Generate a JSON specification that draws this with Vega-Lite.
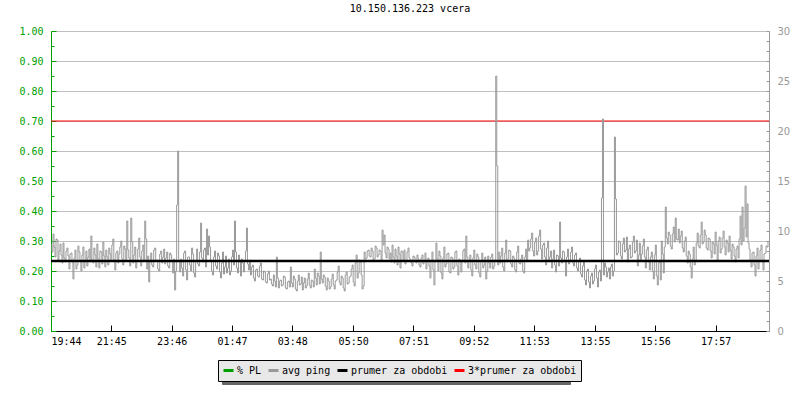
{
"$schema": "https://vega.github.io/schema/vega-lite/v6.json",
"width": 718, "height": 300,
"autosize": {"type": "none"},
"padding": {"left": 51, "top": 31, "right": 31, "bottom": 69},
"background": "white",
"title": {"text": "10.150.136.223 vcera", "font": "DejaVu Sans Mono", "fontSize": 10, "fontWeight": "normal", "color": "black", "offset": 12, "anchor": "middle"},
"config": {"view": {"stroke": null}, "axis": {"labelFont": "DejaVu Sans Mono", "labelFontSize": 10, "title": null}},
"datasets": {
"ping": [
{"t":0,"v":8.6},{"t":2,"v":7.9},{"t":4,"v":9.7},{"t":6,"v":8.4},{"t":8,"v":7.4},{"t":10,"v":9.2},{"t":12,"v":9.1},{"t":14,"v":7.0},{"t":16,"v":8.0},{"t":18,"v":8.7},
{"t":20,"v":7.6},{"t":22,"v":6.8},{"t":24,"v":8.8},{"t":26,"v":7.3},{"t":28,"v":6.9},{"t":30,"v":8.0},{"t":32,"v":8.3},{"t":34,"v":7.5},{"t":36,"v":6.2},{"t":38,"v":7.7},
{"t":40,"v":7.8},{"t":42,"v":6.9},{"t":44,"v":5.2},{"t":46,"v":7.3},{"t":48,"v":8.1},{"t":50,"v":6.2},{"t":52,"v":6.6},{"t":54,"v":8.5},{"t":56,"v":7.9},{"t":58,"v":7.0},
{"t":60,"v":6.0},{"t":62,"v":7.6},{"t":64,"v":8.4},{"t":66,"v":6.3},{"t":68,"v":7.1},{"t":70,"v":8.0},{"t":72,"v":6.5},{"t":74,"v":7.4},{"t":76,"v":8.2},{"t":78,"v":6.9},
{"t":80,"v":9.5},{"t":82,"v":7.1},{"t":84,"v":6.8},{"t":86,"v":8.3},{"t":88,"v":7.6},{"t":90,"v":6.4},{"t":92,"v":8.7},{"t":94,"v":7.2},{"t":96,"v":6.3},{"t":98,"v":8.0},
{"t":100,"v":7.9},{"t":102,"v":6.7},{"t":104,"v":8.9},{"t":106,"v":7.5},{"t":108,"v":6.4},{"t":110,"v":8.1},{"t":112,"v":7.4},{"t":114,"v":6.6},{"t":116,"v":8.3},{"t":118,"v":7.7},
{"t":120,"v":7.0},{"t":122,"v":8.6},{"t":124,"v":9.2},{"t":126,"v":7.1},{"t":128,"v":6.1},{"t":130,"v":7.8},{"t":132,"v":8.0},{"t":134,"v":6.8},{"t":136,"v":7.7},{"t":138,"v":8.4},
{"t":140,"v":9.0},{"t":142,"v":7.2},{"t":144,"v":6.6},{"t":146,"v":8.5},{"t":148,"v":8.2},{"t":150,"v":7.0},{"t":152,"v":11.0},{"t":154,"v":8.1},{"t":156,"v":7.3},{"t":158,"v":6.5},
{"t":160,"v":11.3},{"t":162,"v":8.9},{"t":164,"v":6.8},{"t":166,"v":7.6},{"t":168,"v":8.4},{"t":170,"v":6.3},{"t":172,"v":7.0},{"t":174,"v":8.2},{"t":176,"v":9.3},{"t":178,"v":7.4},
{"t":180,"v":6.5},{"t":182,"v":8.0},{"t":184,"v":8.6},{"t":186,"v":7.1},{"t":188,"v":11.0},{"t":190,"v":9.2},{"t":192,"v":6.2},{"t":194,"v":7.5},{"t":196,"v":4.9},{"t":198,"v":6.9},
{"t":200,"v":7.8},{"t":202,"v":6.6},{"t":204,"v":6.4},{"t":206,"v":8.1},{"t":208,"v":8.3},{"t":210,"v":7.0},{"t":212,"v":7.1},{"t":214,"v":6.2},{"t":216,"v":6.0},{"t":218,"v":7.7},
{"t":220,"v":8.0},{"t":222,"v":6.8},{"t":224,"v":7.4},{"t":226,"v":8.2},{"t":228,"v":6.7},{"t":230,"v":7.3},{"t":232,"v":7.9},{"t":234,"v":6.5},{"t":236,"v":6.3},{"t":238,"v":7.8},
{"t":240,"v":7.6},{"t":242,"v":6.9},{"t":244,"v":5.8},{"t":246,"v":7.2},{"t":248,"v":4.1},{"t":250,"v":6.0},{"t":252,"v":12.6},{"t":254,"v":18.0},{"t":256,"v":7.0},{"t":258,"v":5.9},
{"t":260,"v":7.2},{"t":262,"v":6.3},{"t":264,"v":5.5},{"t":266,"v":7.8},{"t":268,"v":8.0},{"t":270,"v":6.1},{"t":272,"v":5.1},{"t":274,"v":7.4},{"t":276,"v":7.4},{"t":278,"v":6.6},
{"t":280,"v":6.0},{"t":282,"v":8.3},{"t":284,"v":7.7},{"t":286,"v":5.8},{"t":288,"v":5.4},{"t":290,"v":7.0},{"t":292,"v":8.2},{"t":294,"v":6.7},{"t":296,"v":6.5},{"t":298,"v":7.9},
{"t":300,"v":10.8},{"t":302,"v":7.3},{"t":304,"v":6.9},{"t":306,"v":8.1},{"t":308,"v":8.3},{"t":310,"v":6.4},{"t":312,"v":10.2},{"t":314,"v":7.6},{"t":316,"v":9.5},{"t":318,"v":8.4},
{"t":320,"v":7.1},{"t":322,"v":6.0},{"t":324,"v":5.6},{"t":326,"v":7.4},{"t":328,"v":8.0},{"t":330,"v":6.5},{"t":332,"v":6.2},{"t":334,"v":7.8},{"t":336,"v":7.5},{"t":338,"v":5.9},
{"t":340,"v":5.3},{"t":342,"v":6.8},{"t":344,"v":7.9},{"t":346,"v":5.7},{"t":348,"v":6.4},{"t":350,"v":7.5},{"t":352,"v":5.8},{"t":354,"v":6.3},{"t":356,"v":7.2},{"t":358,"v":5.6},
{"t":360,"v":6.0},{"t":362,"v":7.4},{"t":364,"v":8.1},{"t":366,"v":6.6},{"t":368,"v":11.0},{"t":370,"v":7.9},{"t":372,"v":6.3},{"t":374,"v":5.8},{"t":376,"v":7.6},{"t":378,"v":6.9},
{"t":380,"v":5.5},{"t":382,"v":7.2},{"t":384,"v":6.8},{"t":386,"v":5.9},{"t":388,"v":7.0},{"t":390,"v":8.0},{"t":392,"v":10.3},{"t":394,"v":6.7},{"t":396,"v":6.1},{"t":398,"v":7.1},
{"t":400,"v":5.6},{"t":402,"v":6.4},{"t":404,"v":6.6},{"t":406,"v":5.3},{"t":408,"v":5.0},{"t":410,"v":6.1},{"t":412,"v":6.2},{"t":414,"v":5.5},{"t":416,"v":5.4},{"t":418,"v":6.5},
{"t":420,"v":6.8},{"t":422,"v":5.2},{"t":424,"v":5.1},{"t":426,"v":6.0},{"t":428,"v":5.9},{"t":430,"v":4.9},{"t":432,"v":4.8},{"t":434,"v":5.7},{"t":436,"v":6.0},{"t":438,"v":5.1},
{"t":440,"v":5.2},{"t":442,"v":4.7},{"t":444,"v":4.5},{"t":446,"v":5.6},{"t":448,"v":5.0},{"t":450,"v":4.4},{"t":452,"v":7.4},{"t":454,"v":5.3},{"t":456,"v":4.3},{"t":458,"v":5.0},
{"t":460,"v":5.1},{"t":462,"v":4.5},{"t":464,"v":4.6},{"t":466,"v":5.5},{"t":468,"v":5.4},{"t":470,"v":4.3},{"t":472,"v":4.2},{"t":474,"v":4.9},{"t":476,"v":5.0},{"t":478,"v":4.4},
{"t":480,"v":6.4},{"t":482,"v":4.8},{"t":484,"v":4.4},{"t":486,"v":5.5},{"t":488,"v":5.2},{"t":490,"v":4.2},{"t":492,"v":4.0},{"t":494,"v":5.0},{"t":496,"v":5.6},{"t":498,"v":4.6},
{"t":500,"v":4.7},{"t":502,"v":5.4},{"t":504,"v":4.1},{"t":506,"v":4.8},{"t":508,"v":5.3},{"t":510,"v":4.3},{"t":512,"v":4.5},{"t":514,"v":5.2},{"t":516,"v":5.8},{"t":518,"v":4.6},
{"t":520,"v":4.3},{"t":522,"v":5.1},{"t":524,"v":5.0},{"t":526,"v":4.4},{"t":528,"v":6.2},{"t":530,"v":5.3},{"t":532,"v":4.6},{"t":534,"v":5.8},{"t":536,"v":5.5},{"t":538,"v":4.7},
{"t":540,"v":7.9},{"t":542,"v":5.2},{"t":544,"v":4.8},{"t":546,"v":5.6},{"t":548,"v":5.4},{"t":550,"v":4.5},{"t":552,"v":4.1},{"t":554,"v":5.3},{"t":556,"v":5.0},{"t":558,"v":4.2},
{"t":560,"v":4.4},{"t":562,"v":5.2},{"t":564,"v":5.7},{"t":566,"v":4.6},{"t":568,"v":4.2},{"t":570,"v":5.0},{"t":572,"v":5.1},{"t":574,"v":5.9},{"t":576,"v":6.5},{"t":578,"v":4.9},
{"t":580,"v":4.6},{"t":582,"v":5.5},{"t":584,"v":5.3},{"t":586,"v":4.3},{"t":588,"v":4.0},{"t":590,"v":5.6},{"t":592,"v":5.9},{"t":594,"v":4.7},{"t":596,"v":4.8},{"t":598,"v":5.4},
{"t":600,"v":5.5},{"t":602,"v":6.2},{"t":604,"v":6.6},{"t":606,"v":4.9},{"t":608,"v":4.5},{"t":610,"v":6.8},{"t":612,"v":7.6},{"t":614,"v":5.3},{"t":616,"v":5.8},{"t":618,"v":7.1},
{"t":620,"v":6.9},{"t":622,"v":5.6},{"t":624,"v":4.2},{"t":626,"v":4.5},{"t":628,"v":7.9},{"t":630,"v":7.2},{"t":632,"v":7.3},{"t":634,"v":8.0},{"t":636,"v":8.1},{"t":638,"v":7.5},
{"t":640,"v":7.4},{"t":642,"v":8.3},{"t":644,"v":8.0},{"t":646,"v":7.1},{"t":648,"v":7.2},{"t":650,"v":8.5},{"t":652,"v":8.3},{"t":654,"v":7.4},{"t":656,"v":7.6},{"t":658,"v":8.1},
{"t":660,"v":8.0},{"t":662,"v":7.0},{"t":664,"v":10.1},{"t":666,"v":8.6},{"t":668,"v":9.6},{"t":670,"v":7.8},{"t":672,"v":7.3},{"t":674,"v":8.4},{"t":676,"v":8.2},{"t":678,"v":7.2},
{"t":680,"v":7.8},{"t":682,"v":6.9},{"t":684,"v":8.6},{"t":686,"v":7.4},{"t":688,"v":6.8},{"t":690,"v":8.2},{"t":692,"v":7.5},{"t":694,"v":6.6},{"t":696,"v":8.4},{"t":698,"v":7.7},
{"t":700,"v":6.3},{"t":702,"v":8.0},{"t":704,"v":7.9},{"t":706,"v":7.0},{"t":708,"v":8.1},{"t":710,"v":6.7},{"t":712,"v":7.0},{"t":714,"v":7.9},{"t":716,"v":8.3},{"t":718,"v":7.3},
{"t":720,"v":7.1},{"t":722,"v":6.8},{"t":724,"v":6.5},{"t":726,"v":7.5},{"t":728,"v":7.4},{"t":730,"v":6.9},{"t":732,"v":6.8},{"t":734,"v":7.6},{"t":736,"v":7.2},{"t":738,"v":6.6},
{"t":740,"v":6.4},{"t":742,"v":7.3},{"t":744,"v":7.6},{"t":746,"v":6.7},{"t":748,"v":7.0},{"t":750,"v":7.8},{"t":752,"v":6.2},{"t":754,"v":7.1},{"t":756,"v":7.3},{"t":758,"v":6.5},
{"t":760,"v":5.3},{"t":762,"v":7.0},{"t":764,"v":7.9},{"t":766,"v":6.1},{"t":768,"v":4.6},{"t":770,"v":6.9},{"t":772,"v":8.8},{"t":774,"v":7.2},{"t":776,"v":6.0},{"t":778,"v":8.0},
{"t":780,"v":7.5},{"t":782,"v":5.8},{"t":784,"v":5.2},{"t":786,"v":7.3},{"t":788,"v":8.4},{"t":790,"v":6.4},{"t":792,"v":6.7},{"t":794,"v":7.7},{"t":796,"v":7.8},{"t":798,"v":5.9},
{"t":800,"v":5.8},{"t":802,"v":7.4},{"t":804,"v":7.3},{"t":806,"v":6.2},{"t":808,"v":6.4},{"t":810,"v":7.9},{"t":812,"v":8.0},{"t":814,"v":6.5},{"t":816,"v":5.6},{"t":818,"v":7.2},
{"t":820,"v":7.1},{"t":822,"v":5.9},{"t":824,"v":6.9},{"t":826,"v":8.0},{"t":828,"v":8.2},{"t":830,"v":6.8},{"t":832,"v":9.5},{"t":834,"v":7.4},{"t":836,"v":6.3},{"t":838,"v":7.0},
{"t":840,"v":7.6},{"t":842,"v":6.1},{"t":844,"v":5.5},{"t":846,"v":7.3},{"t":848,"v":8.1},{"t":850,"v":6.6},{"t":852,"v":6.2},{"t":854,"v":7.7},{"t":856,"v":7.4},{"t":858,"v":5.8},
{"t":860,"v":5.4},{"t":862,"v":7.0},{"t":864,"v":7.8},{"t":866,"v":6.3},{"t":868,"v":6.6},{"t":870,"v":7.4},{"t":872,"v":5.2},{"t":874,"v":6.0},{"t":876,"v":7.5},{"t":878,"v":6.8},
{"t":880,"v":6.3},{"t":882,"v":7.4},{"t":884,"v":7.7},{"t":886,"v":6.2},{"t":888,"v":6.5},{"t":890,"v":7.1},{"t":892,"v":25.5},{"t":894,"v":16.5},{"t":896,"v":6.6},{"t":898,"v":7.9},
{"t":900,"v":6.8},{"t":902,"v":7.5},{"t":904,"v":8.3},{"t":906,"v":6.4},{"t":908,"v":6.0},{"t":910,"v":7.8},{"t":912,"v":9.1},{"t":914,"v":6.9},{"t":916,"v":7.2},{"t":918,"v":8.1},
{"t":920,"v":8.0},{"t":922,"v":6.7},{"t":924,"v":6.4},{"t":926,"v":7.5},{"t":928,"v":7.3},{"t":930,"v":6.1},{"t":932,"v":5.9},{"t":934,"v":7.9},{"t":936,"v":8.5},{"t":938,"v":6.8},
{"t":940,"v":6.7},{"t":942,"v":7.2},{"t":944,"v":7.6},{"t":946,"v":6.0},{"t":948,"v":5.8},{"t":950,"v":7.4},{"t":952,"v":8.2},{"t":954,"v":7.0},{"t":956,"v":9.1},{"t":958,"v":8.0},
{"t":960,"v":8.3},{"t":962,"v":9.2},{"t":964,"v":9.8},{"t":966,"v":8.0},{"t":968,"v":7.5},{"t":970,"v":8.9},{"t":972,"v":9.3},{"t":974,"v":7.6},{"t":976,"v":8.0},{"t":978,"v":9.5},
{"t":980,"v":10.1},{"t":982,"v":8.2},{"t":984,"v":7.2},{"t":986,"v":8.6},{"t":988,"v":8.8},{"t":990,"v":7.4},{"t":992,"v":6.6},{"t":994,"v":8.3},{"t":996,"v":9.0},{"t":998,"v":7.0},
{"t":1000,"v":7.4},{"t":1002,"v":8.0},{"t":1004,"v":6.3},{"t":1006,"v":7.2},{"t":1008,"v":8.1},{"t":1010,"v":6.6},{"t":1012,"v":5.9},{"t":1014,"v":7.6},{"t":1016,"v":7.5},{"t":1018,"v":6.5},
{"t":1020,"v":10.9},{"t":1022,"v":7.3},{"t":1024,"v":6.8},{"t":1026,"v":8.0},{"t":1028,"v":7.9},{"t":1030,"v":6.9},{"t":1032,"v":5.5},{"t":1034,"v":7.4},{"t":1036,"v":8.2},{"t":1038,"v":6.7},
{"t":1040,"v":7.1},{"t":1042,"v":7.9},{"t":1044,"v":8.4},{"t":1046,"v":6.8},{"t":1048,"v":6.5},{"t":1050,"v":7.6},{"t":1052,"v":7.8},{"t":1054,"v":6.3},{"t":1056,"v":6.0},{"t":1058,"v":7.0},
{"t":1060,"v":7.3},{"t":1062,"v":5.7},{"t":1064,"v":5.4},{"t":1066,"v":6.5},{"t":1068,"v":6.9},{"t":1070,"v":5.1},{"t":1072,"v":4.6},{"t":1074,"v":6.0},{"t":1076,"v":6.2},{"t":1078,"v":4.9},
{"t":1080,"v":4.3},{"t":1082,"v":5.5},{"t":1084,"v":5.8},{"t":1086,"v":4.7},{"t":1088,"v":5.0},{"t":1090,"v":6.2},{"t":1092,"v":6.6},{"t":1094,"v":5.3},{"t":1096,"v":4.4},{"t":1098,"v":5.9},
{"t":1100,"v":6.1},{"t":1102,"v":5.0},{"t":1104,"v":13.3},{"t":1106,"v":21.2},{"t":1108,"v":5.6},{"t":1110,"v":6.8},{"t":1112,"v":6.4},{"t":1114,"v":5.4},{"t":1116,"v":5.9},{"t":1118,"v":6.3},
{"t":1120,"v":5.2},{"t":1122,"v":6.4},{"t":1124,"v":6.7},{"t":1126,"v":5.5},{"t":1128,"v":6.0},{"t":1130,"v":19.4},{"t":1132,"v":13.2},{"t":1134,"v":7.6},{"t":1136,"v":7.8},{"t":1138,"v":9.0},
{"t":1140,"v":8.9},{"t":1142,"v":7.5},{"t":1144,"v":7.2},{"t":1146,"v":8.7},{"t":1148,"v":9.3},{"t":1150,"v":7.9},{"t":1152,"v":8.1},{"t":1154,"v":9.4},{"t":1156,"v":6.9},{"t":1158,"v":8.2},
{"t":1160,"v":8.6},{"t":1162,"v":7.3},{"t":1164,"v":7.4},{"t":1166,"v":8.9},{"t":1168,"v":9.5},{"t":1170,"v":7.8},{"t":1172,"v":8.0},{"t":1174,"v":9.1},{"t":1176,"v":6.5},{"t":1178,"v":7.6},
{"t":1180,"v":8.8},{"t":1182,"v":7.0},{"t":1184,"v":7.7},{"t":1186,"v":8.5},{"t":1188,"v":9.2},{"t":1190,"v":7.4},{"t":1192,"v":6.3},{"t":1194,"v":8.1},{"t":1196,"v":8.4},{"t":1198,"v":6.9},
{"t":1200,"v":6.1},{"t":1202,"v":7.4},{"t":1204,"v":7.9},{"t":1206,"v":6.0},{"t":1208,"v":5.2},{"t":1210,"v":7.6},{"t":1212,"v":8.6},{"t":1214,"v":5.5},{"t":1216,"v":4.6},{"t":1218,"v":6.8},
{"t":1220,"v":7.1},{"t":1222,"v":5.1},{"t":1224,"v":9.0},{"t":1226,"v":7.7},{"t":1228,"v":5.8},{"t":1230,"v":8.4},{"t":1232,"v":12.4},{"t":1234,"v":9.3},{"t":1236,"v":8.7},{"t":1238,"v":9.9},
{"t":1240,"v":9.6},{"t":1242,"v":8.5},{"t":1244,"v":8.2},{"t":1246,"v":9.7},{"t":1248,"v":10.4},{"t":1250,"v":8.9},{"t":1252,"v":11.3},{"t":1254,"v":9.2},{"t":1256,"v":9.1},{"t":1258,"v":10.2},
{"t":1260,"v":8.8},{"t":1262,"v":9.5},{"t":1264,"v":10.0},{"t":1266,"v":8.3},{"t":1268,"v":7.9},{"t":1270,"v":9.0},{"t":1272,"v":9.4},{"t":1274,"v":7.5},{"t":1276,"v":6.8},{"t":1278,"v":8.0},
{"t":1280,"v":7.7},{"t":1282,"v":6.4},{"t":1284,"v":5.3},{"t":1286,"v":7.2},{"t":1288,"v":8.4},{"t":1290,"v":6.6},{"t":1292,"v":6.9},{"t":1294,"v":8.8},{"t":1296,"v":9.8},{"t":1298,"v":8.5},
{"t":1300,"v":8.3},{"t":1302,"v":9.6},{"t":1304,"v":10.9},{"t":1306,"v":8.7},{"t":1308,"v":8.9},{"t":1310,"v":10.1},{"t":1312,"v":9.6},{"t":1314,"v":8.3},{"t":1316,"v":8.1},{"t":1318,"v":9.3},
{"t":1320,"v":9.2},{"t":1322,"v":8.0},{"t":1324,"v":7.3},{"t":1326,"v":8.9},{"t":1328,"v":8.7},{"t":1330,"v":7.7},{"t":1332,"v":9.9},{"t":1334,"v":8.6},{"t":1336,"v":7.0},{"t":1338,"v":9.0},
{"t":1340,"v":9.4},{"t":1342,"v":7.8},{"t":1344,"v":8.2},{"t":1346,"v":9.3},{"t":1348,"v":10.0},{"t":1350,"v":8.4},{"t":1352,"v":7.6},{"t":1354,"v":9.1},{"t":1356,"v":8.8},{"t":1358,"v":7.9},
{"t":1360,"v":9.5},{"t":1362,"v":8.1},{"t":1364,"v":7.2},{"t":1366,"v":8.7},{"t":1368,"v":8.4},{"t":1370,"v":7.5},{"t":1372,"v":6.9},{"t":1374,"v":8.2},{"t":1376,"v":8.5},{"t":1378,"v":7.3},
{"t":1380,"v":9.2},{"t":1382,"v":11.5},{"t":1384,"v":8.6},{"t":1386,"v":12.4},{"t":1388,"v":9.0},{"t":1390,"v":10.3},{"t":1392,"v":14.5},{"t":1394,"v":9.4},{"t":1396,"v":12.7},{"t":1398,"v":8.8},
{"t":1400,"v":8.2},{"t":1402,"v":7.1},{"t":1404,"v":6.4},{"t":1406,"v":7.8},{"t":1408,"v":7.9},{"t":1410,"v":6.6},{"t":1412,"v":5.5},{"t":1414,"v":7.5},{"t":1416,"v":8.3},{"t":1418,"v":6.2},
{"t":1420,"v":7.0},{"t":1422,"v":8.1},{"t":1424,"v":8.6},{"t":1426,"v":6.9},{"t":1428,"v":6.1},{"t":1430,"v":7.7},{"t":1432,"v":7.8},{"t":1434,"v":8.5},{"t":1436,"v":8.4},{"t":1438,"v":8.9}
]},
"layer": [
{
"data": {"values": [{"s": "shadow", "y": 0}]},
"mark": {"type": "point", "opacity": 0, "size": 1},
"encoding": {
"y": {"field": "y", "type": "quantitative", "scale": {"domain": [0, 30], "nice": false}, "axis": null},
"color": {"datum": "avg ping ", "type": "nominal",
"scale": {"domain": ["% PL ", "avg ping ", "prumer za obdobi ", "3*prumer za obdobi "], "range": ["#666666", "#666666", "#666666", "#666666"]},
"legend": {"orient": "none", "legendX": 171, "legendY": 333, "direction": "horizontal", "title": null, "gridAlign": "none",
"symbolType": "stroke", "symbolSize": 100, "symbolStrokeWidth": 3, "symbolOpacity": 0,
"labelExpr": "trim(datum.label)",
"labelFont": "DejaVu Sans Mono", "labelFontSize": 10, "labelColor": "#666666", "labelOpacity": 0, "labelOffset": 2,
"columnPadding": 0, "padding": 4, "fillColor": "#666666", "strokeColor": "#666666"}}
}
},
{
"data": {"values": [{"s": "3*prumer za obdobi", "y": 0.7}]},
"mark": {"type": "rule", "strokeWidth": 1},
"encoding": {
"y": {"field": "y", "type": "quantitative", "scale": {"domain": [0, 1], "nice": false, "zero": true},
"axis": {"orient": "left", "values": [0,0.05,0.1,0.15,0.2,0.25,0.3,0.35,0.4,0.45,0.5,0.55,0.6,0.65,0.7,0.75,0.8,0.85,0.9,0.95,1],
"labelExpr": "round(datum.value*100)%10==0 ? format(datum.value,'.2f') : ''",
"labelColor": "#00a000", "domainColor": "#00a000", "tickColor": "#00a000", "domainWidth": 1,
"tickSize": {"condition": {"test": "round(datum.value*100)%10==0", "value": -5}, "value": -3},
"grid": true, "gridColor": "#c0c0c0",
"gridOpacity": {"condition": {"test": "round(datum.value*100)%10==0", "value": 1}, "value": 0},
"labelPadding": 13}},
"stroke": {"datum": "3*prumer za obdobi", "type": "nominal",
"scale": {"domain": ["% PL", "avg ping", "prumer za obdobi", "3*prumer za obdobi"], "range": ["#00a000", "#999999", "#000000", "#ff0000"]},
"legend": {"orient": "none", "legendX": 167, "legendY": 329, "direction": "horizontal", "title": null, "gridAlign": "none",
"symbolType": "stroke", "symbolSize": 100, "symbolStrokeWidth": 3,
"labelFont": "DejaVu Sans Mono", "labelFontSize": 10, "labelColor": "black", "labelOffset": 2,
"columnPadding": 0, "padding": 4, "fillColor": "#e8e8e8", "strokeColor": "black"}}
}
},
{
"data": {"name": "ping"},
"mark": {"type": "line", "interpolate": "step-after", "strokeWidth": 1},
"encoding": {
"x": {"field": "t", "type": "quantitative", "scale": {"domain": [0, 1440], "nice": false, "zero": false},
"axis": {"orient": "bottom", "values": [0,121,242,363,484,606,727,848,969,1091,1212,1333],
"labelExpr": "timeFormat(datetime(2000,0,1,19,44+datum.value),'%H:%M')",
"domainColor": "black", "tickColor": "black", "tickSize": -6, "labelColor": "black", "labelPadding": 11, "grid": false}},
"y": {"field": "v", "type": "quantitative", "scale": {"domain": [0, 30], "nice": false},
"axis": {"orient": "right", "values": [0,1,2,3,4,5,6,7,8,9,10,11,12,13,14,15,16,17,18,19,20,21,22,23,24,25,26,27,28,29,30],
"labelExpr": "datum.value%5==0 ? datum.label : ''",
"labelFont": "DejaVu Sans", "labelColor": "#999999", "domainColor": "#999999", "tickColor": "#999999",
"tickSize": -3, "grid": false, "labelPadding": 11}},
"stroke": {"datum": "avg ping", "type": "nominal"}
}
},
{
"data": {"values": [{"s": "prumer za obdobi", "y": 7}]},
"mark": {"type": "rule", "strokeWidth": 2.5},
"encoding": {
"y": {"field": "y", "type": "quantitative", "scale": {"domain": [0, 30], "nice": false}, "axis": null},
"stroke": {"datum": "prumer za obdobi", "type": "nominal"}
}
}
],
"resolve": {"scale": {"y": "independent"}}
}
